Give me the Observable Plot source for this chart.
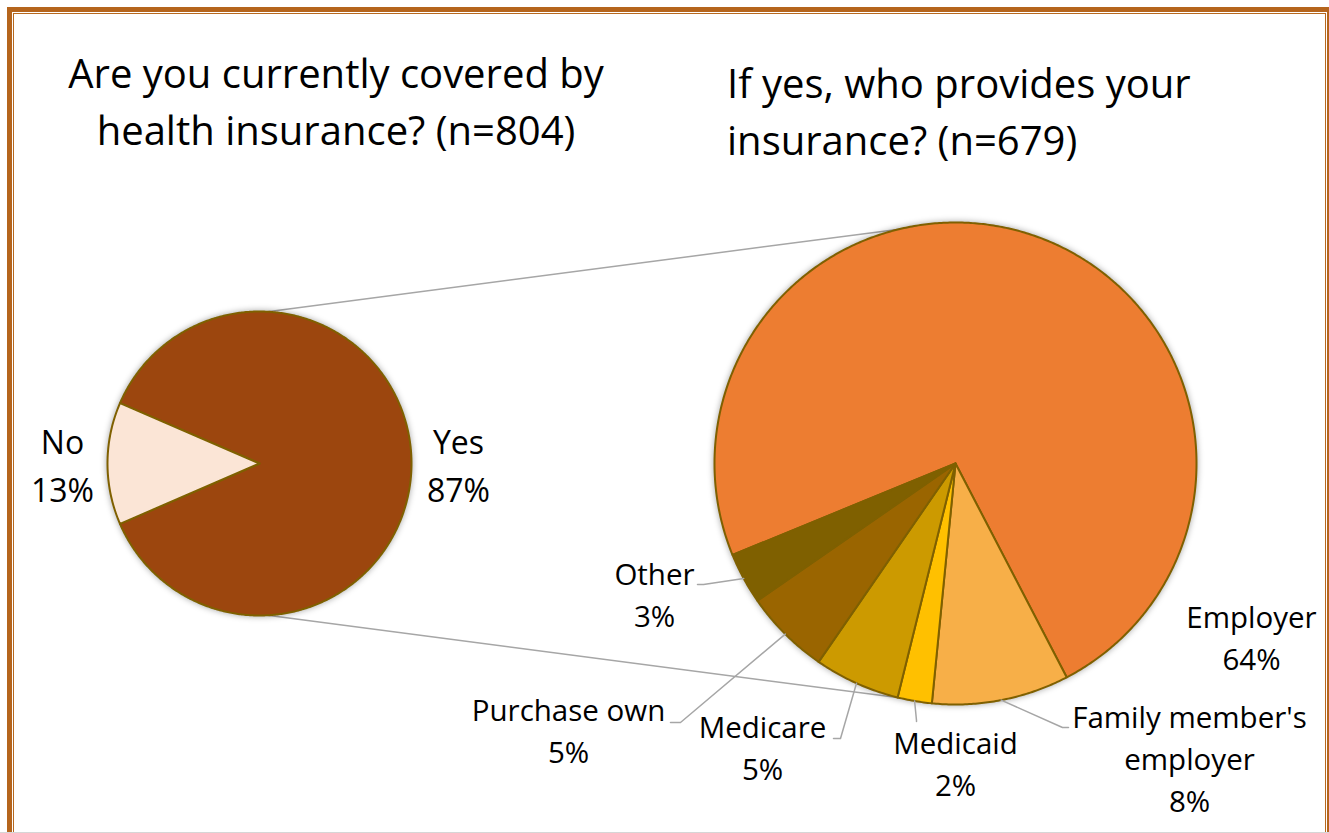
<!DOCTYPE html>
<html><head><meta charset="utf-8">
<script src="https://cdn.jsdelivr.net/npm/d3@7"></script>
<script src="https://cdn.jsdelivr.net/npm/@observablehq/plot@0.6"></script>
<style>
body{margin:0;background:#fff;font-family:"Open Sans",sans-serif;}
#wrap{position:relative;width:1329px;height:833px;overflow:hidden;background:#fff}
#chart{position:absolute;left:0;top:0}
.title{position:absolute;font-size:40px;line-height:57px;color:#000;white-space:nowrap;font-family:"Open Sans",sans-serif}
.fr{position:absolute;box-sizing:border-box;pointer-events:none}
</style></head>
<body>
<div id="wrap">
  <div id="chart"></div>
  <div class="title" id="t1" style="left:36px;top:44px;width:600px;text-align:center"></div>
  <div class="title" id="t2" style="left:727px;top:54px;text-align:left"></div>
  <div class="fr" style="left:7px;top:7px;width:1325px;height:900px;border:5.5px solid #B5651D"></div>
  <div class="fr" style="left:13.3px;top:13.3px;width:1312.4px;height:900px;border:1.5px solid #B8691F"></div>
  <div class="fr" style="left:0;top:831.5px;width:1329px;height:1.5px;background:#D6D6D6"></div>
</div>
<script>
// ---- data ----
const titleLeft = ["Are you currently covered by", "health insurance? (n=804)"];
const titleRight = ["If yes, who provides your", "insurance? (n=679)"];
const coverCats = ["Yes", "No"];
const coverVals = [87, 13];
const provCats = ["Employer", "Family member's employer", "Medicaid", "Medicare", "Purchase own", "Other"];
const provVals = [64, 8, 2, 5, 5, 3];
const provLabelNames = ["Employer", "Family member's\nemployer", "Medicaid", "Medicare", "Purchase own", "Other"];

// ---- styles ----
const coverColors = ["#9C460E", "#FBE5D6"];
const provColors = ["#ED7D31", "#F7AF48", "#FFC000", "#CC9A00", "#9A6500", "#7F6000"];

// ---- layout ----
const W = 1329, H = 833;
const deg = Math.PI / 180;
const leftPie = {cx: 259, cy: 463, r: 152, start: 293.4};
const rightPie = {cx: 955, cy: 463, r: 241, start: 247.7};
const connectorAngles = [[3, 346.5], [177, 193.5]];
const coverLabelPos = {"Yes": [458, 462], "No": [62, 462]};
const provLabelPos = {
  "Employer": {x: 1251, y: 635},
  "Family member's employer": {x: 1189, y: 756, elbow: [1062, 727], end: [1068, 727]},
  "Medicaid": {x: 955, y: 761, elbow: [916, 720], end: [916, 721]},
  "Medicare": {x: 762, y: 745, elbow: [840, 738], end: [833, 738]},
  "Purchase own": {x: 568, y: 728, elbow: [680, 722], end: [670, 722]},
  "Other": {x: 654, y: 592, elbow: [703, 584], end: [697, 584]}
};

document.getElementById("t1").innerHTML = titleLeft.join("<br>");
document.getElementById("t2").innerHTML = titleRight.join("<br>");

function polar(p, a, r = p.r) { return {x: p.cx + r * Math.sin(a * deg), y: p.cy - r * Math.cos(a * deg)}; }

function buildSlices(cats, vals, colors, p) {
  const arcs = d3.pie().sort(null).startAngle(p.start * deg).endAngle(p.start * deg + 2 * Math.PI)(vals);
  const pts = [], mids = [];
  arcs.forEach((a, i) => {
    const a0 = a.startAngle / deg, a1 = a.endAngle / deg;
    const n = Math.max(2, Math.ceil((a1 - a0) / 0.5));
    pts.push({x: p.cx, y: p.cy, cat: cats[i], color: colors[i]});
    for (let k = 0; k <= n; k++) {
      const q = polar(p, a0 + (a1 - a0) * k / n);
      pts.push({x: q.x, y: q.y, cat: cats[i], color: colors[i]});
    }
    mids.push({cat: cats[i], mid: (a0 + a1) / 2, value: vals[i]});
  });
  return {pts, mids};
}

const left = buildSlices(coverCats, coverVals, coverColors, leftPie);
const right = buildSlices(provCats, provVals, provColors, rightPie);
const slicePts = left.pts.concat(right.pts);

const connectors = connectorAngles.map(([a, b]) => {
  const s = polar(leftPie, a), e = polar(rightPie, b);
  return {x1: s.x, y1: s.y, x2: e.x, y2: e.y};
});

const leaders = [];
right.mids.forEach(m => {
  const L = provLabelPos[m.cat];
  if (!L.elbow) return;
  const s = polar(rightPie, m.mid);
  leaders.push({x: s.x, y: s.y, cat: m.cat});
  leaders.push({x: L.elbow[0], y: L.elbow[1], cat: m.cat});
  leaders.push({x: L.end[0], y: L.end[1], cat: m.cat});
});

const coverLabels = coverCats.map((c, i) => ({x: coverLabelPos[c][0], y: coverLabelPos[c][1], text: c + "\n" + coverVals[i] + "%"}));
const provLabels = provCats.map((c, i) => ({x: provLabelPos[c].x, y: provLabelPos[c].y, text: provLabelNames[i] + "\n" + provVals[i] + "%"}));

const chart = Plot.plot({
  width: W, height: H, margin: 0,
  x: {domain: [0, W], range: [0, W], axis: null},
  y: {domain: [0, H], range: [0, H], axis: null},
  color: {type: "identity"},
  style: {background: "transparent", fontFamily: "'Open Sans', sans-serif"},
  marks: [
    Plot.link(connectors, {x1: "x1", y1: "y1", x2: "x2", y2: "y2", stroke: "#A6A6A6", strokeWidth: 1.5}),
    Plot.line(slicePts, {x: "x", y: "y", z: "cat", fill: "color", stroke: "#7F6000", strokeWidth: 2, strokeLinejoin: "round", curve: "linear-closed"}),
    Plot.line(leaders, {x: "x", y: "y", z: "cat", stroke: "#A6A6A6", strokeWidth: 1.5}),
    Plot.text(coverLabels, {x: "x", y: "y", text: "text", fontSize: 32, lineHeight: 1.5, fill: "#000"}),
    Plot.text(provLabels, {x: "x", y: "y", text: "text", fontSize: 29.5, lineHeight: 1.43, fill: "#000"})
  ]
});
document.getElementById("chart").appendChild(chart);
const groups = chart.querySelectorAll(":scope > g");
if (groups[1]) groups[1].style.filter = "drop-shadow(0px 0px 3px rgba(0,0,0,0.35))";
</script>
</body></html>
